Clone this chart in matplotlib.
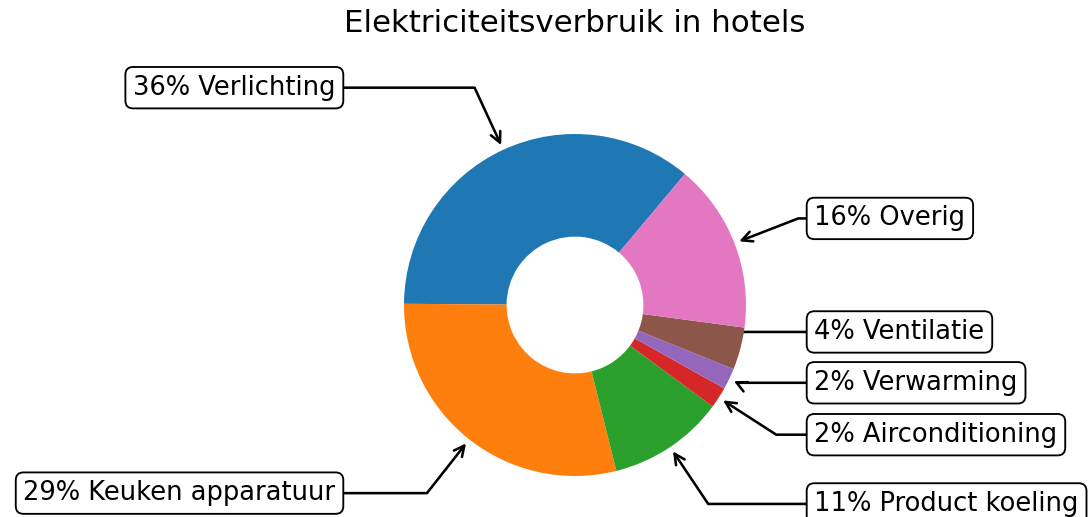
import matplotlib.pyplot as plt
import numpy as np

labels = ["Verlichting", "Keuken apparatuur", "Product koeling", "Airconditioning",
          "Verwarming", "Ventilatie", "Overig"]
percentages = [36, 29, 11, 2, 2, 4, 16]

# the small slices on the right get nudged up so the boxes don't overlap
label_shift = [0, 0, 0, 0, 0.15, 0.2, 0]

fig = plt.figure(figsize=(1090 / 185, 517 / 185), dpi=185)
ax = fig.add_axes([0, 0, 1, 1])

wedges, texts = ax.pie(percentages, wedgeprops=dict(width=0.6), startangle=50)

bbox_props = dict(boxstyle="round,pad=0.3", fc="w", ec="k", lw=0.72)
kw = dict(arrowprops=dict(arrowstyle="->", shrinkA=0), bbox=bbox_props, zorder=0, va="center")

for i, p in enumerate(wedges):
    ang = (p.theta2 - p.theta1) / 2. + p.theta1
    y = np.sin(np.deg2rad(ang))
    x = np.cos(np.deg2rad(ang))
    ha = {-1: "right", 1: "left"}[int(np.sign(x))]
    kw["arrowprops"].update({"connectionstyle": f"angle,angleA=0,angleB={ang}"})
    ax.annotate(f"{percentages[i]}% {labels[i]}", xy=(x, y),
                xytext=(1.4 * np.sign(x), 1.4 * y + label_shift[i]),
                ha=ha, **kw)

# pie centre at (575, 305) px, radius 171 px
ax.set_xlim(-575 / 171, (1090 - 575) / 171)
ax.set_ylim(-(517 - 305) / 171, 305 / 171)
ax.axis("off")

fig.text(575 / 1090, 1 - 23 / 517, "Elektriciteitsverbruik in hotels",
         ha="center", va="center", fontsize=12)

fig.savefig("out.png", dpi=185)
